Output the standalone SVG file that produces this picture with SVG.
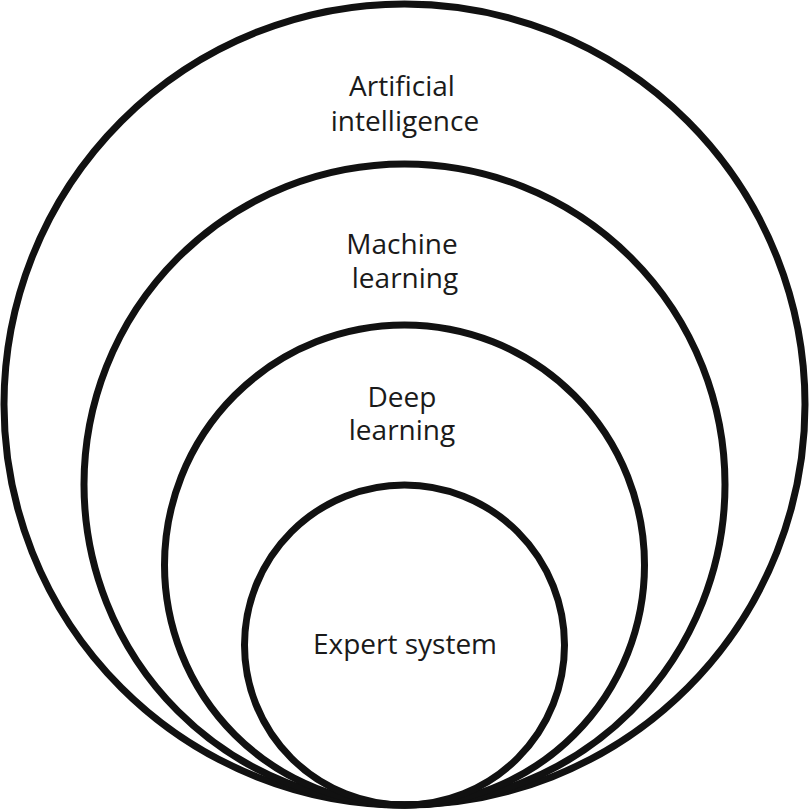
<svg xmlns="http://www.w3.org/2000/svg" width="809" height="809" viewBox="0 0 809 809">
<style>
.c{fill:none;stroke:#111;stroke-width:7}
.t{font-family:"Open Sans","Noto Sans",sans-serif;font-size:28px;fill:#1a1a1a;text-anchor:middle}
</style>
<rect width="809" height="809" fill="#fff"/>
<g id="ai"><circle class="c" cx="404.5" cy="404.5" r="400.5"/>
<text class="t"><tspan x="402" y="96">Artificial</tspan><tspan x="405" y="131">intelligence</tspan></text></g>
<g id="ml"><circle class="c" cx="404.5" cy="484.5" r="320.5"/>
<text class="t"><tspan x="402" y="254">Machine</tspan><tspan x="405" y="288">learning</tspan></text></g>
<g id="dl"><circle class="c" cx="404.5" cy="565" r="240"/>
<text class="t"><tspan x="402" y="407">Deep</tspan><tspan x="402" y="440">learning</tspan></text></g>
<g id="es"><circle class="c" cx="404.5" cy="645" r="160"/>
<text class="t" x="405" y="654">Expert system</text></g>
</svg>
